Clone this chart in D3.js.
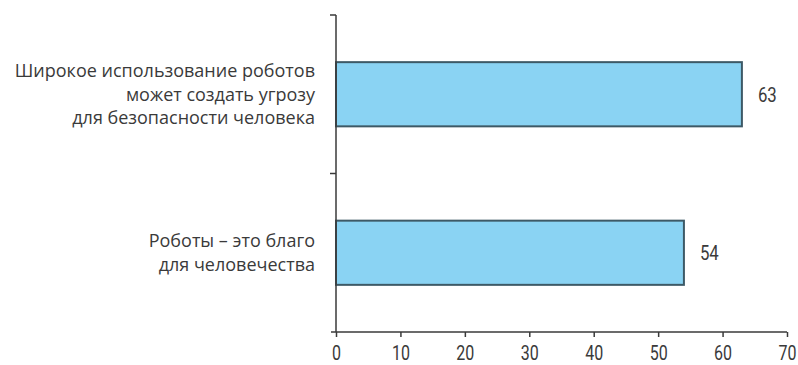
<!DOCTYPE html>
<html>
<head>
<meta charset="utf-8">
<script src="https://cdn.jsdelivr.net/npm/d3@7"></script>
<style>
  html, body { margin: 0; padding: 0; background: #fff; }
  svg { display: block; }
  .cat { font-family: "Open Sans", "Noto Sans", sans-serif; font-size: 18px; fill: #3a3a3a; }
  .num { font-family: "Roboto", "Liberation Sans", sans-serif; font-size: 21px; fill: #3a3a3a; }
  .tick-num { font-family: "Roboto", "Liberation Sans", sans-serif; font-size: 20px; fill: #3a3a3a; }
</style>
</head>
<body>
<svg id="chart" width="798" height="365"></svg>
<script>
// Survey statements and share of respondents who agree (%)
const categories = [
  ["Широкое использование роботов", "может создать угрозу", "для безопасности человека"],
  ["Роботы – это благо", "для человечества"]
];
const values = [63, 54];
const xTicks = [0, 10, 20, 30, 40, 50, 60, 70];

const svg = d3.select("#chart");
const margin = { left: 336, right: 11, top: 15, bottom: 33 };
const W = 798, H = 365;
const narrow = 0.8; // horizontal squeeze for the condensed numerals

const x = d3.scaleLinear().domain([0, 70]).range([margin.left, W - margin.right]);
const y = d3.scaleBand().domain(d3.range(categories.length))
  .range([margin.top, H - margin.bottom]).padding(0);

const barFrac = 0.405;
const axisColor = "#3a3a3a";

// Bars
svg.append("g").selectAll("rect").data(values).join("rect")
  .attr("x", x(0))
  .attr("y", (d, i) => y(i) + y.bandwidth() * (1 - barFrac) / 2)
  .attr("width", d => x(d) - x(0))
  .attr("height", y.bandwidth() * barFrac)
  .attr("fill", "#8ad3f3")
  .attr("stroke", "#3d5966")
  .attr("stroke-width", 2);

// Value labels
svg.append("g").selectAll("g").data(values).join("g")
  .attr("transform", (d, i) => `translate(${x(d) + 16},${y(i) + y.bandwidth() / 2}) scale(${narrow},1)`)
  .append("text")
  .attr("class", "num")
  .attr("dy", "0.36em")
  .text(d => d);

// Y axis: vertical line with ticks at band boundaries
const yAxis = svg.append("g");
yAxis.append("line")
  .attr("x1", x(0)).attr("x2", x(0))
  .attr("y1", margin.top).attr("y2", H - margin.bottom)
  .attr("stroke", axisColor).attr("stroke-width", 1.5);
const bounds = categories.map((c, i) => y(i));
yAxis.selectAll(".yt").data(bounds).join("line")
  .attr("x1", x(0) - 6).attr("x2", x(0))
  .attr("y1", d => d).attr("y2", d => d)
  .attr("stroke", axisColor).attr("stroke-width", 1.5);

// Category labels (multi-line, right-aligned)
categories.forEach((lines, i) => {
  const cy = y(i) + y.bandwidth() / 2;
  const lh = 23.5;
  const t = svg.append("text").attr("class", "cat")
    .attr("text-anchor", "end");
  lines.forEach((ln, k) => {
    t.append("tspan")
      .attr("x", 315)
      .attr("y", cy + (k - (lines.length - 1) / 2) * lh)
      .attr("dy", "0.36em")
      .text(ln);
  });
});

// X axis
const xAxis = d3.axisBottom(x).tickValues(xTicks).tickSize(5).tickPadding(9).tickSizeOuter(0);
const gx = svg.append("g")
  .attr("transform", `translate(0,${H - margin.bottom})`)
  .call(xAxis);
gx.attr("font-family", null).attr("font-size", null);
gx.select(".domain").attr("stroke", axisColor).attr("stroke-width", 1.5)
  .attr("d", `M${x(0) - 5},0H${x(70)}`);
gx.selectAll(".tick line").attr("stroke", axisColor).attr("stroke-width", 1.5);
gx.selectAll(".tick text").attr("class", "tick-num").attr("fill", "#3a3a3a")
  .attr("transform", `scale(${narrow},1)`);
</script>
</body>
</html>
